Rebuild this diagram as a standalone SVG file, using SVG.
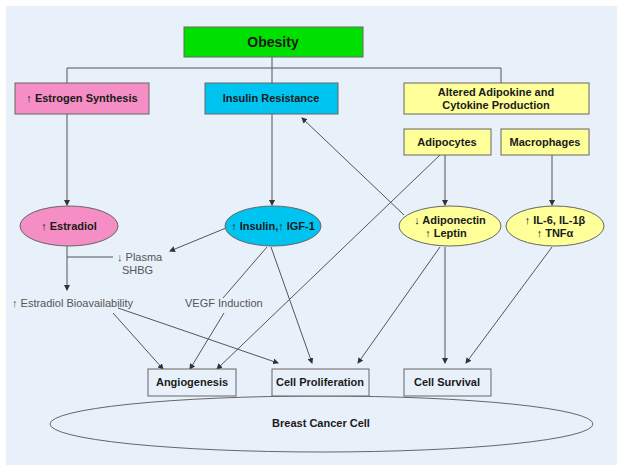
<svg xmlns="http://www.w3.org/2000/svg" width="624" height="472" viewBox="0 0 624 472">
<defs>
<marker id="ah" markerWidth="6" markerHeight="6" refX="5" refY="3" orient="auto" markerUnits="userSpaceOnUse">
<path d="M0,0 L6,3 L0,6 z" fill="#333"/>
</marker>
<style>
.bx{stroke:#666;stroke-width:1}
.t{font-family:"Liberation Sans",Arial,sans-serif;font-size:11px;font-weight:bold;fill:#1a1a1a;text-anchor:middle}
.g{font-family:"Liberation Sans",Arial,sans-serif;font-size:11px;fill:#555}
.ln{stroke:#555;stroke-width:1;fill:none}
.ar{stroke:#555;stroke-width:1;fill:none;marker-end:url(#ah)}
</style>
</defs>
<rect width="624" height="472" fill="#fff"/>
<rect x="6" y="6" width="611" height="459" fill="#e8f0fa"/>
<g id="connectors">
<path class="ln" d="M272,57 V83 M67,83 V68 H501 V83"/>
<path class="ar" d="M67,114 V205"/>
<path class="ar" d="M272,114 V205"/>
<path class="ar" d="M445,155 V205"/>
<path class="ar" d="M552,155 V205"/>
<path class="ar" d="M404,215 L302,118"/>
<path class="ar" d="M440,155 L217,369"/>
<path class="ar" d="M67,246 V290"/>
<path class="ln" d="M67,257 H113"/>
<path class="ar" d="M226,228 L170,251"/>
<path class="ln" d="M267,247 L223,298"/>
<path class="ar" d="M224,313 L190,369"/>
<path class="ar" d="M271,247 L312,363"/>
<path class="ar" d="M113,313 L163,369"/>
<path class="ar" d="M118,308 L278,363"/>
<path class="ar" d="M440,247 L358,363"/>
<path class="ar" d="M445,247 V363"/>
<path class="ar" d="M552,247 L466,363"/>
</g>
<g id="obesity"><rect class="bx" x="184" y="27" width="179" height="30" fill="#00e000"/><text class="t" x="273" y="47" style="font-size:14px">Obesity</text></g>
<g id="estrogen"><rect class="bx" x="15" y="83" width="134" height="31" fill="#f48ec4"/><text class="t" x="82" y="102">↑ Estrogen Synthesis</text></g>
<g id="insulinres"><rect class="bx" x="205" y="83" width="133" height="31" fill="#00c4f0"/><text class="t" x="271" y="102">Insulin Resistance</text></g>
<g id="adipokine"><rect class="bx" x="404" y="83" width="185" height="31" fill="#ffff99"/><text class="t" x="496" y="96">Altered Adipokine and</text><text class="t" x="496" y="109">Cytokine Production</text></g>
<g id="adipocytes"><rect class="bx" x="404" y="129" width="87" height="26" fill="#ffff99"/><text class="t" x="447" y="146">Adipocytes</text></g>
<g id="macrophages"><rect class="bx" x="501" y="129" width="88" height="26" fill="#ffff99"/><text class="t" x="545" y="146">Macrophages</text></g>
<g id="estradiol"><ellipse class="bx" cx="69" cy="226" rx="49" ry="20" fill="#f48ec4"/><text class="t" x="69" y="230">↑ Estradiol</text></g>
<g id="insulin"><ellipse class="bx" cx="273" cy="226" rx="48" ry="20" fill="#00c4f0"/><text class="t" x="273" y="230">↑ Insulin,↑ IGF-1</text></g>
<g id="adiponectin"><ellipse class="bx" cx="450" cy="226" rx="51" ry="20" fill="#ffff99"/><text class="t" x="450" y="224">↓ Adiponectin</text><text class="t" x="446" y="237">↑ Leptin</text></g>
<g id="il6"><ellipse class="bx" cx="555" cy="226" rx="49" ry="20" fill="#ffff99"/><text class="t" x="555" y="224">↑ IL-6, IL-1β</text><text class="t" x="555" y="237">↑ TNFα</text></g>
<g id="shbg"><text class="g" x="117" y="261">↓ Plasma</text><text class="g" x="122" y="274">SHBG</text></g>
<g id="bioavail"><text class="g" x="12" y="307">↑ Estradiol Bioavailability</text></g>
<g id="vegf"><text class="g" x="185" y="307">VEGF Induction</text></g>
<g id="cancercell"><ellipse class="bx" cx="321.5" cy="424" rx="271.5" ry="28" fill="none"/><text class="t" x="321" y="427">Breast Cancer Cell</text></g>
<g id="angiogenesis"><rect class="bx" x="148" y="369" width="88" height="27" fill="#e8f0fa"/><text class="t" x="192" y="386">Angiogenesis</text></g>
<g id="proliferation"><rect class="bx" x="272" y="369" width="97" height="27" fill="#e8f0fa"/><text class="t" x="320" y="386">Cell Proliferation</text></g>
<g id="survival"><rect class="bx" x="404" y="369" width="87" height="27" fill="#e8f0fa"/><text class="t" x="447" y="386">Cell Survival</text></g>
</svg>
